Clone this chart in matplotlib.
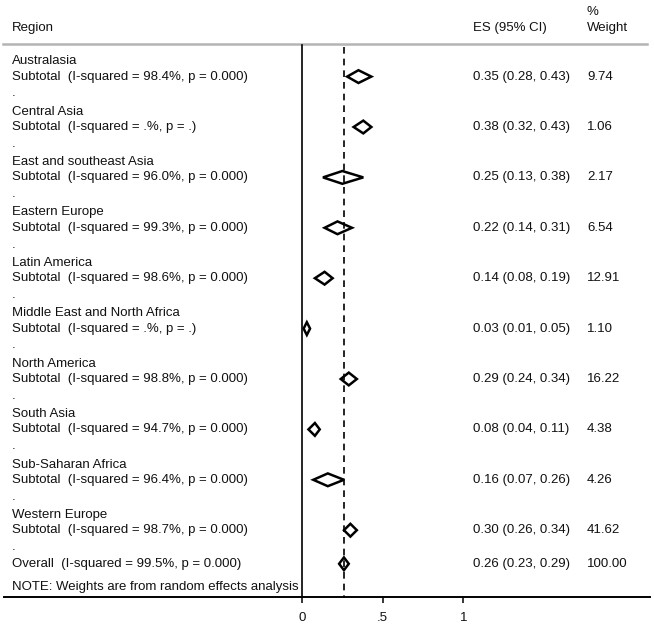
import matplotlib
matplotlib.use("Agg")
import matplotlib.pyplot as plt
from matplotlib.patches import Polygon

plt.rcParams['font.family'] = ['Liberation Sans', 'DejaVu Sans']

regions = ["Australasia", "Central Asia", "East and southeast Asia", "Eastern Europe",
           "Latin America", "Middle East and North Africa", "North America", "South Asia",
           "Sub-Saharan Africa", "Western Europe"]
i2 = ["98.4%, p = 0.000", ".%, p = .", "96.0%, p = 0.000", "99.3%, p = 0.000",
      "98.6%, p = 0.000", ".%, p = .", "98.8%, p = 0.000", "94.7%, p = 0.000",
      "96.4%, p = 0.000", "98.7%, p = 0.000"]
es = [0.35, 0.38, 0.25, 0.22, 0.14, 0.03, 0.29, 0.08, 0.16, 0.30]
lo = [0.28, 0.32, 0.13, 0.14, 0.08, 0.01, 0.24, 0.04, 0.07, 0.26]
hi = [0.43, 0.43, 0.38, 0.31, 0.19, 0.05, 0.34, 0.11, 0.26, 0.34]
weights = ["9.74", "1.06", "2.17", "6.54", "12.91", "1.10", "16.22", "4.38", "4.26", "41.62"]
overall_es, overall_lo, overall_hi = 0.26, 0.23, 0.29
overall_i2 = "99.5%, p = 0.000"
overall_w = "100.00"
xticks = [0, 0.5, 1]
xticklabels = ["0", ".5", "1"]

W, H = 654, 625
fig = plt.figure(figsize=(W / 100, H / 100), dpi=100)

# pixel geometry
px0, px1 = 302.0, 463.3          # x pixel of 0 and 1
ax_left_px, ax_right_px = 4.0, 650.0
axis_y_px = 597.0
row0_px, pitch = 59.8, 16.8

ax = fig.add_axes([ax_left_px / W, (H - axis_y_px) / H,
                   (ax_right_px - ax_left_px) / W, axis_y_px / H])
scale = px1 - px0
ax.set_xlim((ax_left_px - px0) / scale, (ax_right_px - px0) / scale)
r_top = (0 - row0_px) / pitch
r_bot = (axis_y_px - row0_px) / pitch
ax.set_ylim(r_bot, r_top)

for s in ['top', 'left', 'right']:
    ax.spines[s].set_visible(False)
ax.spines['bottom'].set_linewidth(1.4)
ax.spines['bottom'].set_color('black')
ax.set_yticks([])
ax.set_xticks(xticks)
ax.set_xticklabels(xticklabels, fontsize=9.5, color='#111111')
ax.tick_params(axis='x', direction='out', length=4, width=1.1, pad=6.5)

def rowpx(p):
    return (p - row0_px) / pitch

toff = 1.5 / pitch   # small downward shift of text relative to marks
text_kw = dict(fontsize=9.5, color='#111111', va='center', ha='left')
xt = lambda px: (px - px0) / scale

# header
sep_r = rowpx(44.5)
ax.plot([xt(3), xt(647)], [sep_r, sep_r], color='#b4b4b4', lw=1.8, clip_on=False)
ax.text(xt(12), rowpx(28), "Region", **text_kw)
ax.text(xt(473), rowpx(28), "ES (95% CI)", **text_kw)
ax.text(xt(587), rowpx(12), "%", **text_kw)
ax.text(xt(587), rowpx(28), "Weight", **text_kw)

# reference lines
ax.plot([0, 0], [rowpx(45.5), r_bot], color='black', lw=1.2)
ax.plot([overall_es, overall_es], [rowpx(47), r_bot], color='black', lw=1.2,
        dashes=(4, 3))

h = 0.38
for i, name in enumerate(regions):
    r = 3 * i
    ax.text(xt(12), r + toff, name, **text_kw)
    ax.text(xt(12), r + 1, "Subtotal  (I-squared = " + i2[i] + ")", **text_kw)
    ax.text(xt(12), r + 2, ".", **text_kw)
    d = Polygon([(lo[i], r + 1), (es[i], r + 1 - h), (hi[i], r + 1), (es[i], r + 1 + h)],
                closed=True, fill=False, edgecolor='black', lw=1.8, joinstyle='miter')
    ax.add_patch(d)
    ax.text(xt(473), r + 1, f"{es[i]:.2f} ({lo[i]:.2f}, {hi[i]:.2f})", **text_kw)
    ax.text(xt(587), r + 1, weights[i], **text_kw)

r = 30
ax.text(xt(12), r, "Overall  (I-squared = " + overall_i2 + ")", **text_kw)
ax.add_patch(Polygon([(overall_lo, r), (overall_es, r - h), (overall_hi, r), (overall_es, r + h)],
                     closed=True, fill=False, edgecolor='black', lw=1.8, joinstyle='miter'))
ax.text(xt(473), r, f"{overall_es:.2f} ({overall_lo:.2f}, {overall_hi:.2f})", **text_kw)
ax.text(xt(587), r, overall_w, **text_kw)
ax.text(xt(12), rowpx(587), "NOTE: Weights are from random effects analysis", **text_kw)

fig.savefig("out.png", dpi=100, facecolor='white')
